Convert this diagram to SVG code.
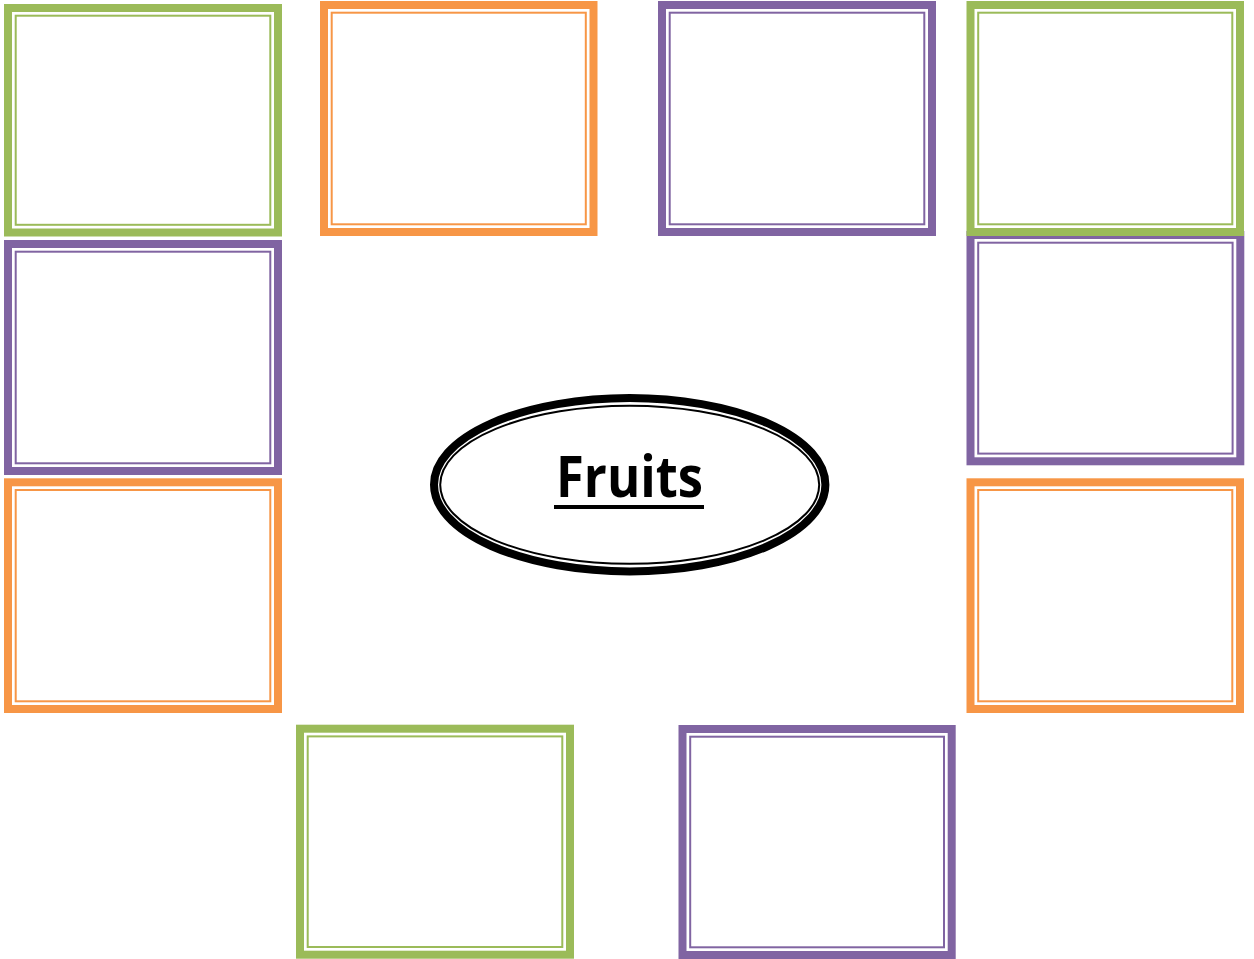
<svg xmlns="http://www.w3.org/2000/svg" width="1254" height="959" viewBox="0 0 1254 959">
<style>
.o{fill:none;stroke-width:8}
.i{fill:none;stroke-width:2}
.g{stroke:#9BBB59}
.r{stroke:#F79646}
.p{stroke:#8064A2}
.t{font-family:"Open Sans","Liberation Sans",sans-serif;font-weight:bold;font-size:57px;fill:#000}
</style>
<rect width="1254" height="959" fill="#fff"/>
<g id="box-purple-right">
<rect class="o p" x="970.5" y="235" width="269.8" height="226.3"/>
<rect class="i p" x="978.2" y="242.7" width="254.4" height="210.9"/>
</g>
<g id="box-green-tl">
<rect class="o g" x="8" y="8" width="270" height="224.5"/>
<rect class="i g" x="15.7" y="15.7" width="254.6" height="209.1"/>
</g>
<g id="box-orange-top">
<rect class="o r" x="324" y="5" width="269.5" height="227"/>
<rect class="i r" x="331.7" y="12.7" width="254.1" height="211.6"/>
</g>
<g id="box-purple-top">
<rect class="o p" x="662" y="5" width="270" height="227"/>
<rect class="i p" x="669.7" y="12.7" width="254.6" height="211.6"/>
</g>
<g id="box-green-tr">
<rect class="o g" x="970.5" y="5" width="269.5" height="227"/>
<rect class="i g" x="978.2" y="12.7" width="254.1" height="211.6"/>
</g>
<g id="box-purple-left">
<rect class="o p" x="8" y="244" width="270" height="227"/>
<rect class="i p" x="15.7" y="251.7" width="254.6" height="211.6"/>
</g>
<g id="box-orange-left">
<rect class="o r" x="8" y="482.3" width="270" height="226.7"/>
<rect class="i r" x="15.7" y="490" width="254.6" height="211.3"/>
</g>
<g id="box-orange-right">
<rect class="o r" x="970.5" y="482.3" width="269.5" height="226.7"/>
<rect class="i r" x="978.2" y="490" width="254.1" height="211.3"/>
</g>
<g id="box-green-bottom">
<rect class="o g" x="300" y="728.7" width="270" height="226"/>
<rect class="i g" x="307.7" y="736.4" width="254.6" height="210.6"/>
</g>
<g id="box-purple-bottom">
<rect class="o p" x="682.5" y="729" width="269.2" height="226"/>
<rect class="i p" x="690.2" y="736.7" width="253.8" height="210.6"/>
</g>
<g id="connectors"></g>
<g id="node-fruits">
<ellipse cx="629.7" cy="484.7" rx="195.7" ry="86.7" fill="#fff" stroke="#000" stroke-width="8"/>
<ellipse cx="629.7" cy="484.7" rx="189.5" ry="79" fill="none" stroke="#000" stroke-width="2"/>
<text class="t" x="629.5" y="497" text-anchor="middle" textLength="147" lengthAdjust="spacingAndGlyphs">Fruits</text>
<rect x="554" y="505" width="150" height="4" fill="#000"/>
</g>
</svg>
